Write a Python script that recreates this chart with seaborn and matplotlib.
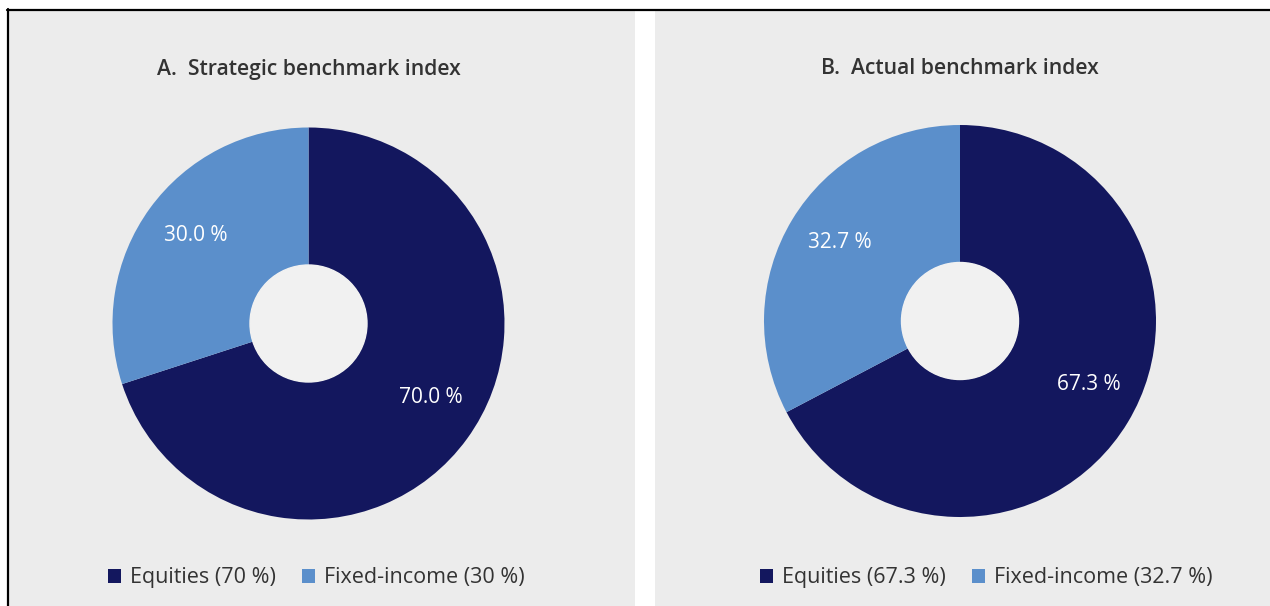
import matplotlib
matplotlib.use("Agg")
import matplotlib.pyplot as plt
from matplotlib.patches import Rectangle
from matplotlib.lines import Line2D
import seaborn as sns
import numpy as np

sns.set_theme(style="white")
plt.rcParams['font.family'] = ['Open Sans', 'DejaVu Sans']

# ---- data ----
categories = ["Equities", "Fixed-income"]
strategic_values = [70.0, 30.0]
actual_values = [67.3, 32.7]
panel_titles = ["A.  Strategic benchmark index", "B.  Actual benchmark index"]
legend_strategic = ["Equities (70 %)", "Fixed-income (30 %)"]
legend_actual = ["Equities (67.3 %)", "Fixed-income (32.7 %)"]

colors = ["#13175e", "#5b8fcb"]
panel_bg = "#ececec"
hole_color = "#f1f1f1"
text_color = "#333333"

W, H = 1270, 606
fig = plt.figure(figsize=(W / 100, H / 100), dpi=100)
fig.patch.set_facecolor("white")

def fx(px):
    return px / W

def fy(py):
    return 1 - py / H

# panel backgrounds
fig.add_artist(Rectangle((fx(9), 0), fx(635 - 9), fy(11), transform=fig.transFigure,
                         facecolor=panel_bg, edgecolor="none", zorder=0))
fig.add_artist(Rectangle((fx(655), 0), fx(W - 655), fy(11), transform=fig.transFigure,
                         facecolor=panel_bg, edgecolor="none", zorder=0))
# border lines
fig.add_artist(Line2D([fx(7), 1], [fy(10), fy(10)], transform=fig.transFigure,
                      color="black", lw=1.6, zorder=5))
fig.add_artist(Line2D([fx(8), fx(8)], [fy(9), 0], transform=fig.transFigure,
                      color="black", lw=1.6, zorder=5))

R = 196
hole = 58.5 / R
label_shift = [5.0, -2.0]  # degrees, per category

def draw_panel(cx, cy, values, title, title_y, leg_labels, leg_cx):
    ax = fig.add_axes([fx(cx - R), fy(cy + R), fx(2 * R), (2 * R) / H])
    ax.set_facecolor("none")
    wedges, _ = ax.pie(values, colors=colors, startangle=90, counterclock=False,
                       radius=1, wedgeprops=dict(width=1 - hole, edgecolor="none"))
    ax.add_artist(plt.Circle((0, 0), hole, color=hole_color, zorder=3))
    # value labels
    total = sum(values)
    start = 90.0
    for v, sh in zip(values, label_shift):
        mid = start - 360 * v / total / 2
        ang = np.deg2rad(mid + sh)
        ax.text(0.73 * np.cos(ang), 0.73 * np.sin(ang), f"{v:.1f} %",
                ha="center", va="center", color="white", fontsize=15)
        start -= 360 * v / total
    ax.set_xlim(-1, 1)
    ax.set_ylim(-1, 1)
    ax.set_aspect("equal")
    ax.axis("off")
    fig.text(fx(cx), fy(title_y), title, ha="center", va="center",
             fontsize=15.2, fontweight="semibold", fontstretch="normal", color=text_color)
    fig.legend(wedges, leg_labels, loc="center", bbox_to_anchor=(fx(leg_cx), fy(578)),
               ncol=2, frameon=False, fontsize=15.5, handlelength=0.62, handleheight=0.62,
               handletextpad=0.4, columnspacing=1.2, labelcolor=text_color)

draw_panel(308.5, 323.5, strategic_values, panel_titles[0], 69, legend_strategic, 316)
draw_panel(960, 321, actual_values, panel_titles[1], 68, legend_actual, 986)

fig.savefig("out.png", dpi=100, facecolor="white")
